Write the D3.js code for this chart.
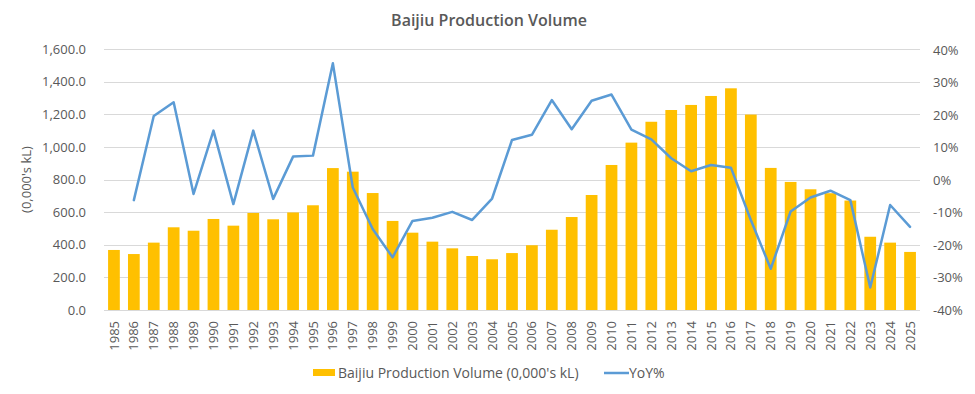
<!DOCTYPE html>
<html>
<head>
<meta charset="utf-8">
<script src="https://cdn.jsdelivr.net/npm/d3@7"></script>
<style>
  body { margin: 0; background: #fff; }
  text { font-family: "Open Sans", Lato, sans-serif; fill: #595959; }
</style>
</head>
<body>
<div id="chart"></div>
<script>
// chart data
const years = d3.range(1985, 2026).map(String);
const volume = [368, 343, 413, 507, 486, 558, 517, 595, 556, 598, 642, 870, 848, 717, 546,
  474, 419, 378, 331, 311, 349, 397, 492, 570, 705, 889, 1026, 1154, 1226,
  1257, 1312, 1359, 1198, 871, 785, 740, 716, 671, 449, 413, 356];
const yoy = [null, -6.2, 19.7, 23.9, -4.3, 15.2, -7.4, 15.2, -5.8, 7.2, 7.5, 35.9, -2.3, -15.1, -23.8,
  -12.6, -11.6, -9.8, -12.3, -5.7, 12.3, 13.9, 24.6, 15.6, 24.4, 26.3, 15.5, 12.5, 6.7,
  2.7, 4.6, 3.8, -12.3, -27.3, -9.7, -5.4, -3.3, -6.2, -33.1, -7.7, -14.4];
const leftTicks = d3.range(0, 1601, 200);
const rightTicks = d3.range(-40, 41, 10);

const width = 975;
const height = 394;
const margin = { top: 49, right: 55, bottom: 84, left: 104 };
const fontSize = "13px";

const svg = d3.select("#chart")
  .append("svg")
  .attr("width", width)
  .attr("height", height);

const x = d3.scaleBand()
  .domain(years)
  .range([margin.left, width - margin.right])
  .paddingInner(0.41)
  .paddingOuter(0.205);

const y = d3.scaleLinear()
  .domain([0, 1600])
  .range([height - margin.bottom, margin.top]);

const y2 = d3.scaleLinear()
  .domain([-40, 40])
  .range([height - margin.bottom, margin.top + 1]);

// gridlines
svg.append("g")
  .selectAll("line")
  .data(leftTicks)
  .enter().append("line")
  .attr("x1", margin.left)
  .attr("x2", width - margin.right)
  .attr("y1", d => Math.round(y(d)) + 0.5)
  .attr("y2", d => Math.round(y(d)) + 0.5)
  .attr("stroke", "#d9d9d9")
  .attr("stroke-width", 1);

// left axis
const yAxis = d3.axisLeft(y)
  .tickValues(leftTicks)
  .tickSize(0)
  .tickPadding(8)
  .tickFormat(d3.format(",.1f"));

svg.append("g")
  .attr("transform", `translate(${margin.left - 10},0)`)
  .call(yAxis)
  .call(g => g.select(".domain").remove())
  .selectAll("text")
  .style("font-size", fontSize)
  .style("fill", "#595959");

// right axis
const y2Axis = d3.axisRight(y2)
  .tickValues(rightTicks)
  .tickSize(0)
  .tickPadding(0)
  .tickFormat(d => d + "%");

svg.append("g")
  .attr("transform", `translate(${width - margin.right + 13},0)`)
  .call(y2Axis)
  .call(g => g.select(".domain").remove())
  .selectAll("text")
  .style("font-size", fontSize)
  .style("fill", "#595959");

// bars
svg.append("g")
  .selectAll("rect")
  .data(years)
  .enter().append("rect")
  .attr("x", d => x(d))
  .attr("width", x.bandwidth())
  .attr("y", (d, i) => y(volume[i]))
  .attr("height", (d, i) => y(0) - y(volume[i]))
  .attr("fill", "#FFC000");

// x axis labels
const xAxis = d3.axisBottom(x).tickSize(0).tickPadding(0);
svg.append("g")
  .attr("transform", `translate(0,${height - margin.bottom})`)
  .call(xAxis)
  .call(g => g.select(".domain")
    .attr("stroke", "#d9d9d9")
    .attr("d", `M${margin.left},0.5H${width - margin.right}`))
  .selectAll("text")
  .attr("transform", "rotate(-90)")
  .attr("x", -11)
  .attr("y", 0)
  .attr("dy", "0.35em")
  .style("text-anchor", "end")
  .style("font-size", fontSize)
  .style("fill", "#595959");

// yoy line
const line = d3.line()
  .defined(d => d.v !== null)
  .x(d => x(d.year) + x.bandwidth() / 2)
  .y(d => y2(d.v));

svg.append("path")
  .datum(years.map((yr, i) => ({ year: yr, v: yoy[i] })))
  .attr("d", line)
  .attr("fill", "none")
  .attr("stroke", "#5B9BD5")
  .attr("stroke-width", 2.5)
  .attr("stroke-linejoin", "round")
  .attr("stroke-linecap", "round");

// title
svg.append("text")
  .attr("x", 489)
  .attr("y", 26)
  .attr("text-anchor", "middle")
  .style("font-size", "16px")
  .style("font-weight", "600")
  .text("Baijiu Production Volume");

// y axis title
svg.append("text")
  .attr("transform", `translate(31,${(y(0) + y(1600)) / 2}) rotate(-90)`)
  .attr("text-anchor", "middle")
  .style("font-size", fontSize)
  .text("(0,000's kL)");

// legend
const legend = svg.append("g").attr("class", "legend");
legend.append("rect")
  .attr("x", 313)
  .attr("y", 369)
  .attr("width", 22)
  .attr("height", 7)
  .attr("fill", "#FFC000");
legend.append("text")
  .attr("x", 338)
  .attr("y", 377.5)
  .style("font-size", "14px")
  .text("Baijiu Production Volume (0,000's kL)");
legend.append("line")
  .attr("x1", 604)
  .attr("x2", 629)
  .attr("y1", 373)
  .attr("y2", 373)
  .attr("stroke", "#5B9BD5")
  .attr("stroke-width", 2.5);
legend.append("text")
  .attr("x", 629)
  .attr("y", 377.5)
  .style("font-size", "14px")
  .text("YoY%");
</script>
</body>
</html>
